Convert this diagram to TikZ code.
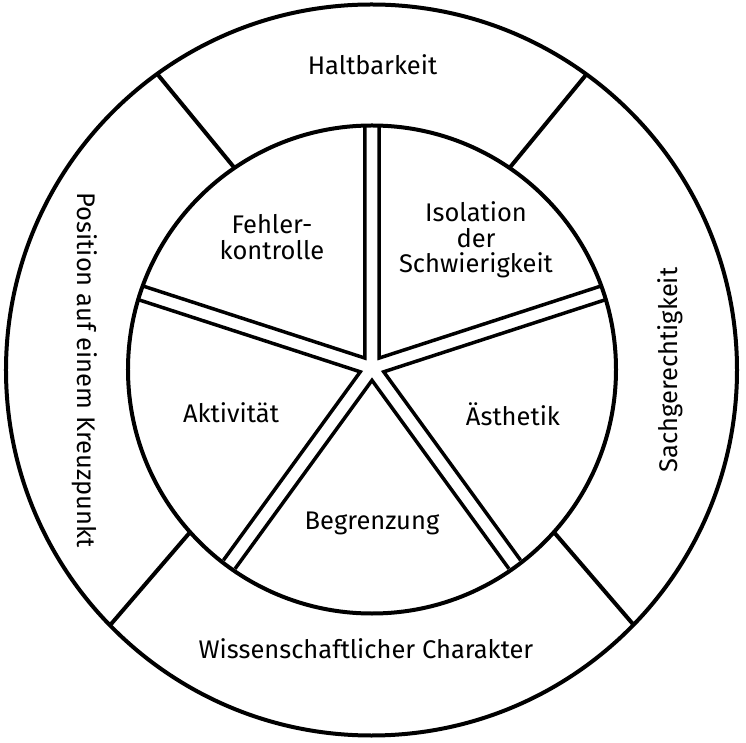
\documentclass[tikz,border=0pt]{standalone}
\usepackage{fontspec}
\setmainfont{Fira Sans}
\begin{document}
\begin{tikzpicture}[x=1pt,y=1pt,
  ringline/.style={line width=4pt, draw=black},
  pieline/.style={line width=3.5pt, draw=black, line join=miter},
  lbl/.style={font=\fontsize{25.5}{25.5}\selectfont, align=center, inner sep=0pt}]
\useasboundingbox (-372,-373.5) rectangle (374,369.5);
% circles
\draw[ringline] (-0.5,-0.5) circle[radius=365.5];
\draw[ringline] (0,0) circle[radius=244];
% ring dividers
\draw[ringline] (124.3:244) -- (126:365);
\draw[ringline] (55.7:244) -- (54:365);
\draw[ringline] (221.8:244) -- (224.3:365);
\draw[ringline] (318.2:244) -- (315.7:365);
% pie wedges
\begin{scope}[shift={(0,1.5)}]
\foreach \a in {18,90,162,234,306} {
  \draw[pieline] ({\a+1.7}:243) -- ({\a+36}:12.33) -- ({\a+70.3}:243);
}
\end{scope}
% ring labels
\node[lbl, anchor=base] (halt) at (0.5,294.5) {Haltbarkeit};
\node[lbl, anchor=base] (wiss) at (-6,-288.5) {Wissenschaftlicher Charakter};
\node[lbl, anchor=base, rotate=90] (sach) at (305.7,-0.5) {Sachgerechtigkeit};
\node[lbl, anchor=base, rotate=-90] (pos) at (-294,-0.5) {Position auf einem Kreuzpunkt};
% pie labels
\node[lbl] (fehler) at (-100,132.5) {Fehler-\\kontrolle};
\node[lbl] (iso) at (104,129.5) {Isolation\\der\\Schwierigkeit};
\node[lbl] (aesth) at (141,-44.5) {Ästhetik};
\node[lbl] (akt) at (-141,-43.5) {Aktivität};
\node[lbl] (begr) at (0,-153.5) {Begrenzung};
\end{tikzpicture}
\end{document}
